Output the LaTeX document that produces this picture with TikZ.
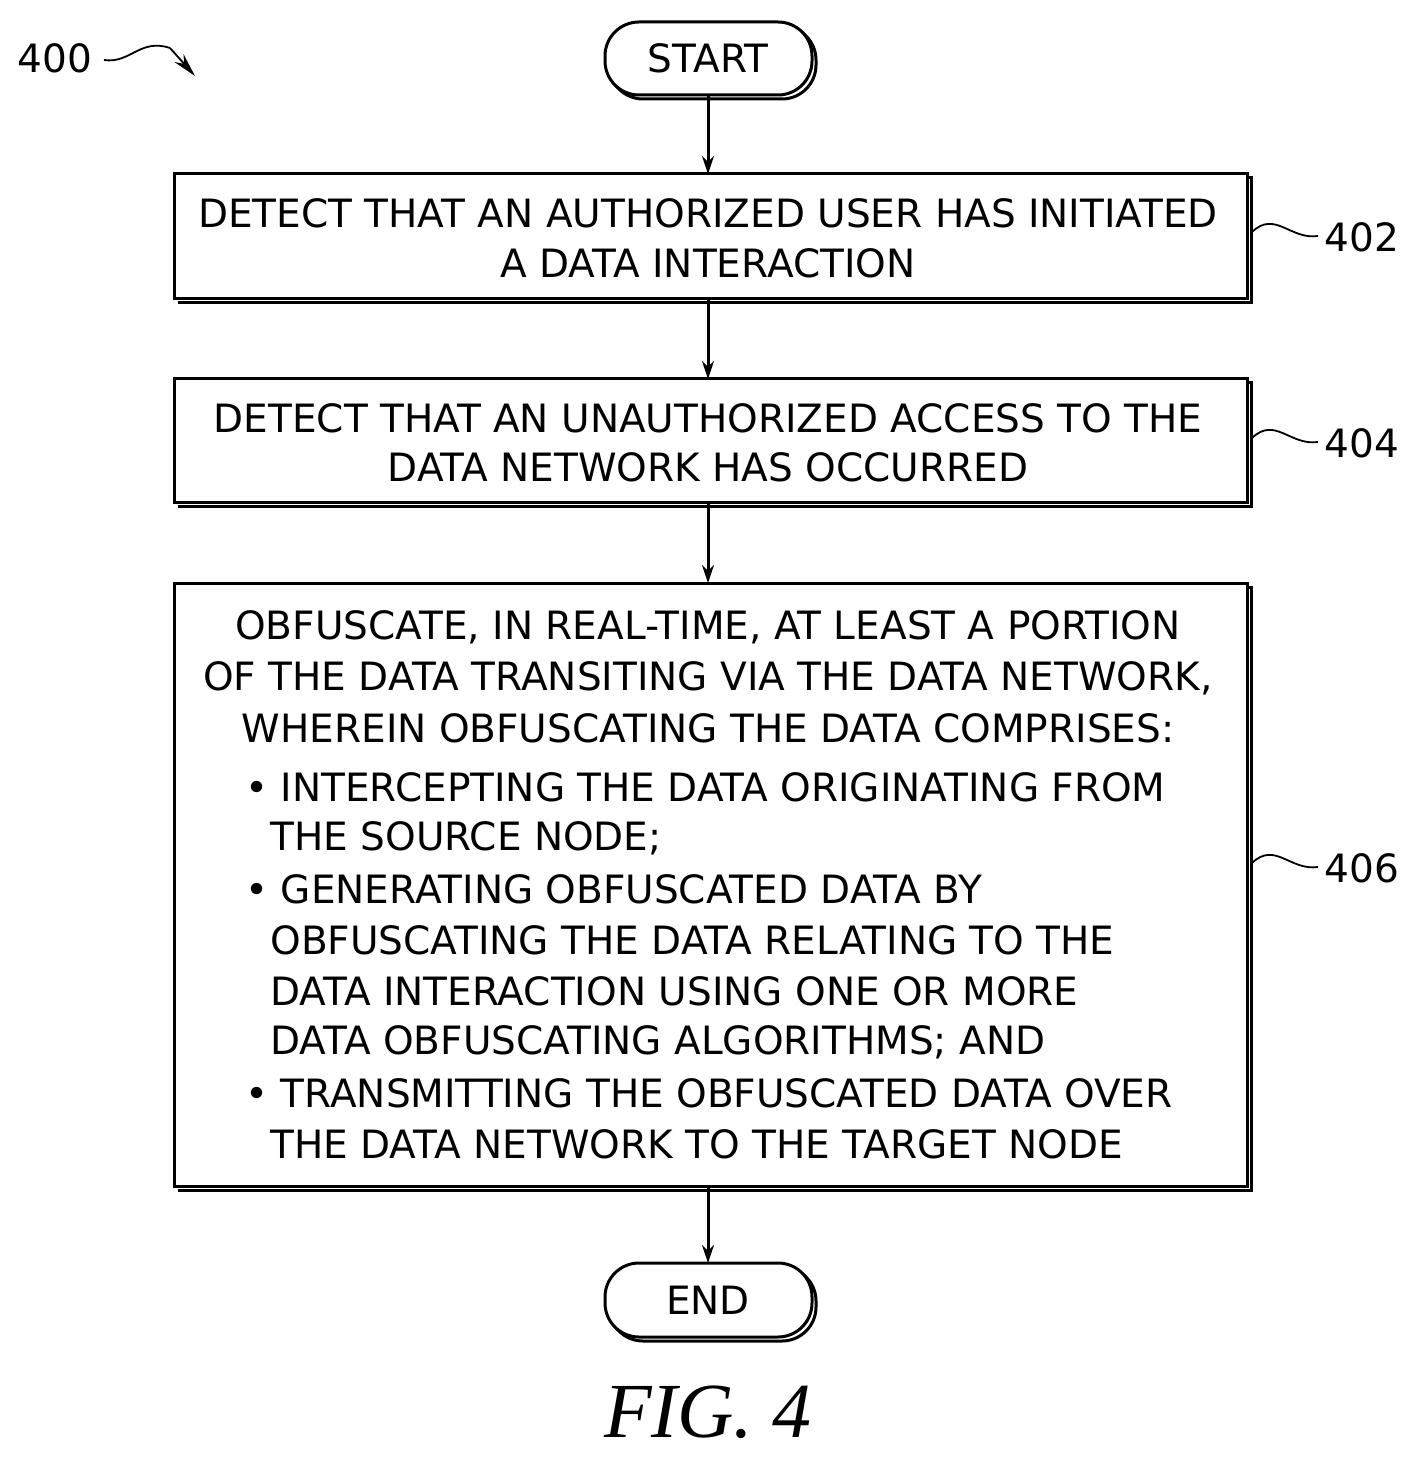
\documentclass[tikz,border=0pt]{standalone}
\usepackage{fontspec}
\setmainfont{DejaVu Sans}
\newfontfamily\figfont{Liberation Serif}
\usetikzlibrary{arrows.meta}
\begin{document}
\begin{tikzpicture}[x=0.5pt,y=-0.5pt,
  txt/.style={inner sep=0pt,font=\fontsize{19.5}{25}\selectfont},
  box/.style={draw,line width=1.5pt},
  term/.style={draw,line width=1.5pt,rounded corners=17pt},
  arr/.style={-{Stealth[length=9pt,width=6pt]},line width=1.5pt},
  sq/.style={line width=0.9pt}]
\useasboundingbox (0,0) rectangle (1417,1459);
% shadows
\draw[line width=1.5pt] (178,178) -- (1251,178) -- (1251,303) -- (178,303);
\draw[line width=1.5pt] (178,383) -- (1251,383) -- (1251,507) -- (178,507);
\draw[line width=1.5pt] (178,587) -- (1251,587) -- (1251,1190) -- (178,1190);
\draw[term] (609,26) rectangle (816,99);
\draw[term] (609,1267) rectangle (816,1341);
\draw[term,fill=white] (605,22) rectangle (812,95);
\draw[term,fill=white] (605,1263) rectangle (812,1337);
\node[txt] (start) at (708,58) {START};
\node[txt] (end) at (708,1300) {END};
\node[box,fill=white,minimum width=536.5pt,minimum height=62.5pt] (b402) at (710.5,236.5) {};
\node[box,fill=white,minimum width=536.5pt,minimum height=62pt] (b404) at (710.5,441) {};
\node[box,fill=white,minimum width=536.5pt,minimum height=301.5pt] (b406) at (710.5,884.5) {};
\node[txt] (t402a) at (708,213) {DETECT THAT AN AUTHORIZED USER HAS INITIATED};
\node[txt] (t402b) at (708,263) {A DATA INTERACTION};
\node[txt] (t404a) at (708,418) {DETECT THAT AN UNAUTHORIZED ACCESS TO THE};
\node[txt] (t404b) at (708,467) {DATA NETWORK HAS OCCURRED};
\node[txt] (l1) at (708,627) {OBFUSCATE, IN REAL-TIME, AT LEAST A PORTION};
\node[txt] (l2) at (708,678) {OF THE DATA TRANSITING VIA THE DATA NETWORK,};
\node[txt] (l3) at (708,728) {WHEREIN OBFUSCATING THE DATA COMPRISES:};
\node[txt,anchor=west] (l4) at (245,787) {\textbullet\ INTERCEPTING THE DATA ORIGINATING FROM};
\node[txt,anchor=west] (l5) at (270,838) {THE SOURCE NODE;};
\node[txt,anchor=west] (l6) at (245,889) {\textbullet\ GENERATING OBFUSCATED DATA BY};
\node[txt,anchor=west] (l7) at (270,940) {OBFUSCATING THE DATA RELATING TO THE};
\node[txt,anchor=west] (l8) at (270,991) {DATA INTERACTION USING ONE OR MORE};
\node[txt,anchor=west] (l9) at (270,1042) {DATA OBFUSCATING ALGORITHMS; AND};
\node[txt,anchor=west] (l10) at (245,1093) {\textbullet\ TRANSMITTING THE OBFUSCATED DATA OVER};
\node[txt,anchor=west] (l11) at (270,1144) {THE DATA NETWORK TO THE TARGET NODE};
\draw[arr] (708,96) -- (708,174);
\draw[arr] (708,299) -- (708,379);
\draw[arr] (708,503) -- (708,583);
\draw[arr] (708,1186) -- (708,1263);
% reference labels
\node[txt] (n402) at (1362,237) {402};
\node[txt] (n404) at (1362,443) {404};
\node[txt] (n406) at (1362,868) {406};
\node[txt] (n400) at (55,58) {400};
\draw[sq] (1252,232) .. controls (1275,210) and (1290,240) .. (1318,236);
\draw[sq] (1252,438) .. controls (1275,416) and (1290,446) .. (1318,442);
\draw[sq] (1252,863) .. controls (1275,841) and (1290,871) .. (1318,867);
\draw[sq] (104,60) .. controls (130,64) and (140,38) .. (170,48);
\draw[sq,-{Stealth[length=12pt,width=6pt]}] (170,48) -- (195,76);
\node[inner sep=0pt,font=\figfont\itshape\fontsize{39}{39}\selectfont] (fig) at (708,1412) {FIG. 4};
\end{tikzpicture}
\end{document}
